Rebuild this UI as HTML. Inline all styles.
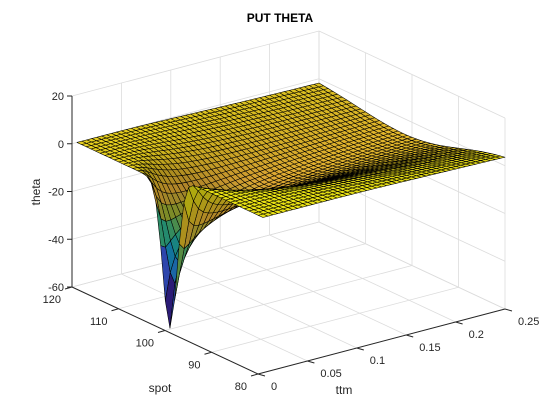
<!DOCTYPE html>
<html><head><meta charset="utf-8"><style>
html,body{margin:0;padding:0;background:#fff}
svg{display:block;font-family:"Liberation Sans",sans-serif}
</style></head><body>
<svg id="chart" width="560" height="420" viewBox="0 0 560 420" xmlns="http://www.w3.org/2000/svg">
<rect x="0" y="0" width="560" height="420" fill="#fff"/>
<g id="grid"></g>
<g id="surf"></g>
<g id="axes"></g>
<text x="280" y="22" text-anchor="middle" font-size="12" font-weight="bold" fill="#000">PUT THETA</text>
<text x="0" y="0" transform="translate(40,192) rotate(-90)" text-anchor="middle" font-size="12" fill="#262626">theta</text>
<text x="160" y="392" text-anchor="middle" font-size="12" fill="#262626">spot</text>
<text x="344" y="394" text-anchor="middle" font-size="12" fill="#262626">ttm</text>
</svg>
<script>
// data arrays
const spotTicks = [80, 90, 100, 110, 120];
const ttmTicks = [0, 0.05, 0.1, 0.15, 0.2, 0.25];
const zTicks = [-60, -40, -20, 0, 20];
const ttmTickLabels = ["0", "0.05", "0.1", "0.15", "0.2", "0.25"];
const strike = [100];
const rate = [0.05];
const vol = [0.22];
const spotGrid = [];
for (let s = 80; s <= 120; s += 1) spotGrid.push(s);
const ttmGrid = [];
for (let i = 1; i <= 50; i++) ttmGrid.push(+(i * 0.005).toFixed(3));

const NS = "http://www.w3.org/2000/svg";
const O = [72, 287], S = [186, 87], T = [247, -65], Z = [0, -191];
function P(s, t, z) {
  const u = (120 - s) / 40, v = t / 0.25, w = (z + 60) / 80;
  return [O[0] + u * S[0] + v * T[0] + w * Z[0], O[1] + u * S[1] + v * T[1] + w * Z[1]];
}
function ncdf(x){const t=1/(1+0.2316419*Math.abs(x));const d=0.3989423*Math.exp(-x*x/2);
  let p=d*t*(0.3193815+t*(-0.3565638+t*(1.781478+t*(-1.821256+t*1.330274))));return x>0?1-p:p;}
function theta(S0, T0) {
  const K = strike[0], r = rate[0], sg = vol[0];
  const d1 = (Math.log(S0 / K) + (r + sg * sg / 2) * T0) / (sg * Math.sqrt(T0));
  const d2 = d1 - sg * Math.sqrt(T0);
  const pdf = Math.exp(-d1 * d1 / 2) / Math.sqrt(2 * Math.PI);
  return -S0 * pdf * sg / (2 * Math.sqrt(T0)) + r * K * Math.exp(-r * T0) * ncdf(-d2);
}
const stops = [[0,.2422,.1504,.6603],[.125,.2810,.3228,.9579],[.25,.1786,.5289,.9682],[.375,.0689,.6948,.8394],
 [.5,.2161,.7843,.5923],[.625,.6720,.7793,.2227],[.75,.9892,.7441,.2296],[.875,.9600,.8200,.1500],[1,.9769,.9500,.0805]];
function parula(f, k){f=Math.max(0,Math.min(1,f));for(let i=1;i<stops.length;i++){if(f<=stops[i][0]){const a=stops[i-1],b=stops[i],q=(f-a[0])/(b[0]-a[0]);
 return "rgb("+[1,2,3].map(j=>Math.round(255*k*(a[j]+q*(b[j]-a[j])))).join(",")+")";}}return "rgb(249,242,20)";}
function line(g, a, b, col, w, name) {
  const l = document.createElementNS(NS, "line");
  l.setAttribute("x1", a[0]); l.setAttribute("y1", a[1]); l.setAttribute("x2", b[0]); l.setAttribute("y2", b[1]);
  l.setAttribute("stroke", col); l.setAttribute("stroke-width", w);
  
  
  g.appendChild(l);
}
function text(g, x, y, str, anchor, name) {
  const t = document.createElementNS(NS, "text");
  t.setAttribute("x", x); t.setAttribute("y", y); t.setAttribute("text-anchor", anchor);
  t.setAttribute("font-size", "11"); t.setAttribute("fill", "#262626"); t.textContent = str;
  
  
  g.appendChild(t);
}
const grid = document.getElementById("grid");
const gc = "#dcdcdc";
ttmTicks.forEach(t => { line(grid, P(120, t, -60), P(120, t, 20), gc, 0.8, "grid-line"); line(grid, P(120, t, -60), P(80, t, -60), gc, 0.8, "grid-line"); });
spotTicks.forEach(s => { line(grid, P(s, 0.25, -60), P(s, 0.25, 20), gc, 0.8, "grid-line"); line(grid, P(s, 0, -60), P(s, 0.25, -60), gc, 0.8, "grid-line"); });
zTicks.forEach(z => { line(grid, P(120, 0, z), P(120, 0.25, z), gc, 0.8, "grid-line"); line(grid, P(120, 0.25, z), P(80, 0.25, z), gc, 0.8, "grid-line"); });

const Zv = spotGrid.map(s => ttmGrid.map(t => theta(s, t)));
let zmin = Infinity, zmax = -Infinity;
Zv.forEach(r => r.forEach(v => { zmin = Math.min(zmin, v); zmax = Math.max(zmax, v); }));
const faces = [];
for (let i = 0; i < spotGrid.length - 1; i++) for (let j = 0; j < ttmGrid.length - 1; j++) {
  const s0 = spotGrid[i], s1 = spotGrid[i + 1], t0 = ttmGrid[j], t1 = ttmGrid[j + 1];
  const pts = [P(s0, t0, Zv[i][j]), P(s1, t0, Zv[i + 1][j]), P(s1, t1, Zv[i + 1][j + 1]), P(s0, t1, Zv[i][j + 1])];
  const near = (120 - (s0 + s1) / 2) / 40 + (0.25 - (t0 + t1) / 2) / 0.25;
  // simple shading by slope in normalized units
  const dzs = (Zv[i + 1][j] - Zv[i][j]) / 80 * 40, dzt = (Zv[i][j + 1] - Zv[i][j]) / 80 * 50;
  const k = Math.max(0.7, 0.93 - 0.25 * Math.min(1, Math.hypot(dzs, dzt)));
  faces.push({ pts, near, c: Zv[i][j], k });
}
faces.sort((a, b) => a.near - b.near);
const surf = document.getElementById("surf");
faces.forEach(f => {
  const p = document.createElementNS(NS, "polygon");
  p.setAttribute("points", f.pts.map(q => q[0].toFixed(2) + "," + q[1].toFixed(2)).join(" "));
  p.setAttribute("fill", parula((f.c - zmin) / (zmax - zmin), f.k));
  p.setAttribute("stroke", "#000"); p.setAttribute("stroke-width", "0.55"); p.setAttribute("stroke-linejoin", "round");
  
  
  surf.appendChild(p);
});

const ax = document.getElementById("axes");
line(ax, P(120, 0, -60), P(120, 0, 20), "#262626", 1, "z-axis-line");
line(ax, P(120, 0, -60), P(80, 0, -60), "#262626", 1, "spot-axis-line");
line(ax, P(80, 0, -60), P(80, 0.25, -60), "#262626", 1, "ttm-axis-line");
zTicks.forEach(z => { const p = P(120, 0, z); line(ax, p, [p[0] - 5, p[1]], "#262626", 1, "z-tick"); text(ax, p[0] - 8, p[1] + 4, String(z), "end", "z-tick-label"); });
spotTicks.forEach(s => { const p = P(s, 0, -60); line(ax, p, [p[0] - 7, p[1] + 2], "#262626", 1, "spot-tick"); text(ax, p[0] - 11, p[1] + 16, String(s), "end", "spot-tick-label"); });
ttmTicks.forEach((t, k) => { const p = P(80, t, -60); line(ax, p, [p[0] + 7, p[1] + 2], "#262626", 1, "ttm-tick"); text(ax, p[0] + 13, p[1] + 16, ttmTickLabels[k], "start", "ttm-tick-label"); });
</script>
</body></html>
